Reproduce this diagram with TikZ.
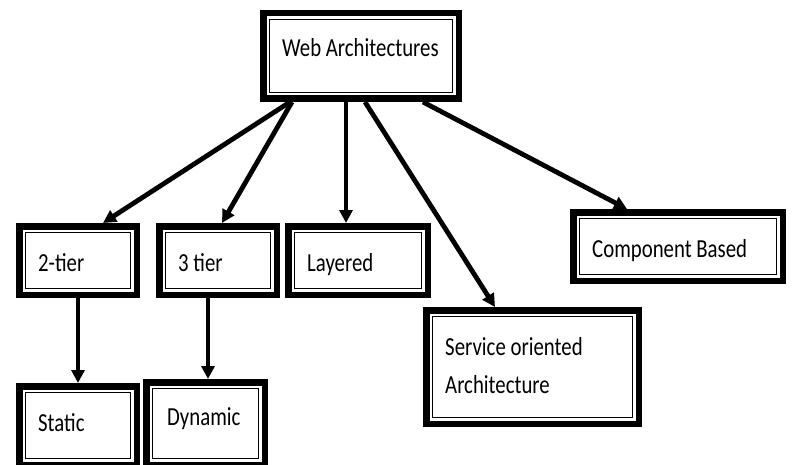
\documentclass[tikz,border=0pt]{standalone}
\usepackage{fontspec}
\setmainfont{Carlito}
\usetikzlibrary{arrows.meta}
\newcommand\sqz[1]{\scalebox{0.8}[1]{#1}}
\begin{document}
\begin{tikzpicture}[x=1pt,y=-1pt,
  box/.style={draw=black, fill=white, line width=6.5pt, outer sep=3.25pt, inner sep=0pt, rectangle,
    path picture={\draw[line width=1.4pt] ([shift={(6pt,6pt)}]path picture bounding box.south west) rectangle ([shift={(-6pt,-6pt)}]path picture bounding box.north east);}},
  lbl/.style={anchor=base west, inner sep=0pt, font=\fontsize{26pt}{30pt}\selectfont},
  arr/.style={line width=4.8pt, -{Triangle[length=13pt,width=13pt]}}]
\useasboundingbox (0,0) rectangle (794,465);
\fill[white] (0,0) rectangle (794,465);
% boxes (size = outer size minus line width)
\node[box, minimum width=195.5pt, minimum height=85.5pt] (web) at (361,56) {};
\node[box, minimum width=117.5pt, minimum height=68.5pt] (two) at (78,260.5) {};
\node[box, minimum width=117.5pt, minimum height=68.5pt] (three) at (218,260.5) {};
\node[box, minimum width=139.5pt, minimum height=68.5pt] (layered) at (358,260.5) {};
\node[box, minimum width=209.5pt, minimum height=68.5pt] (comp) at (678,246.5) {};
\node[box, minimum width=212.5pt, minimum height=113.5pt] (soa) at (532.5,367) {};
\node[box, minimum width=117.5pt, minimum height=78.5pt] (static) at (78,425.5) {};
\node[box, minimum width=118.5pt, minimum height=82.5pt] (dynamic) at (205.5,423.5) {};
% labels
\node[lbl] (tweb) at (282,57) {\sqz{Web Architectures}};
\node[lbl] (ttwo) at (38,271) {\sqz{2-tier}};
\node[lbl] (tthree) at (178,271) {\sqz{3 tier}};
\node[lbl] (tlayered) at (307,271) {\sqz{Layered}};
\node[lbl] (tcomp) at (592,257) {\sqz{Component Based}};
\node[lbl] (tsoa1) at (445,355) {\sqz{Service oriented}};
\node[lbl] (tsoa2) at (445,393) {\sqz{Architecture}};
\node[lbl] (tstatic) at (38,431) {\sqz{Static}};
\node[lbl] (tdynamic) at (167,425) {\sqz{Dynamic}};
% connectors
\draw[arr] ([xshift=-71pt]web.south) -- ([xshift=25pt]two.north);
\draw[arr] ([xshift=-69pt]web.south) -- ([xshift=4pt]three.north);
\draw[arr] ([xshift=-15pt]web.south) -- ([xshift=-12pt]layered.north);
\draw[arr] ([xshift=4pt]web.south) -- ([xshift=-37.5pt]soa.north);
\draw[arr] ([xshift=62pt]web.south) -- ([xshift=-51pt]comp.north);
\draw[arr] (two.south) -- (static.north);
\draw[arr] ([xshift=-10pt]three.south) -- ([xshift=2.5pt]dynamic.north);
\end{tikzpicture}
\end{document}
